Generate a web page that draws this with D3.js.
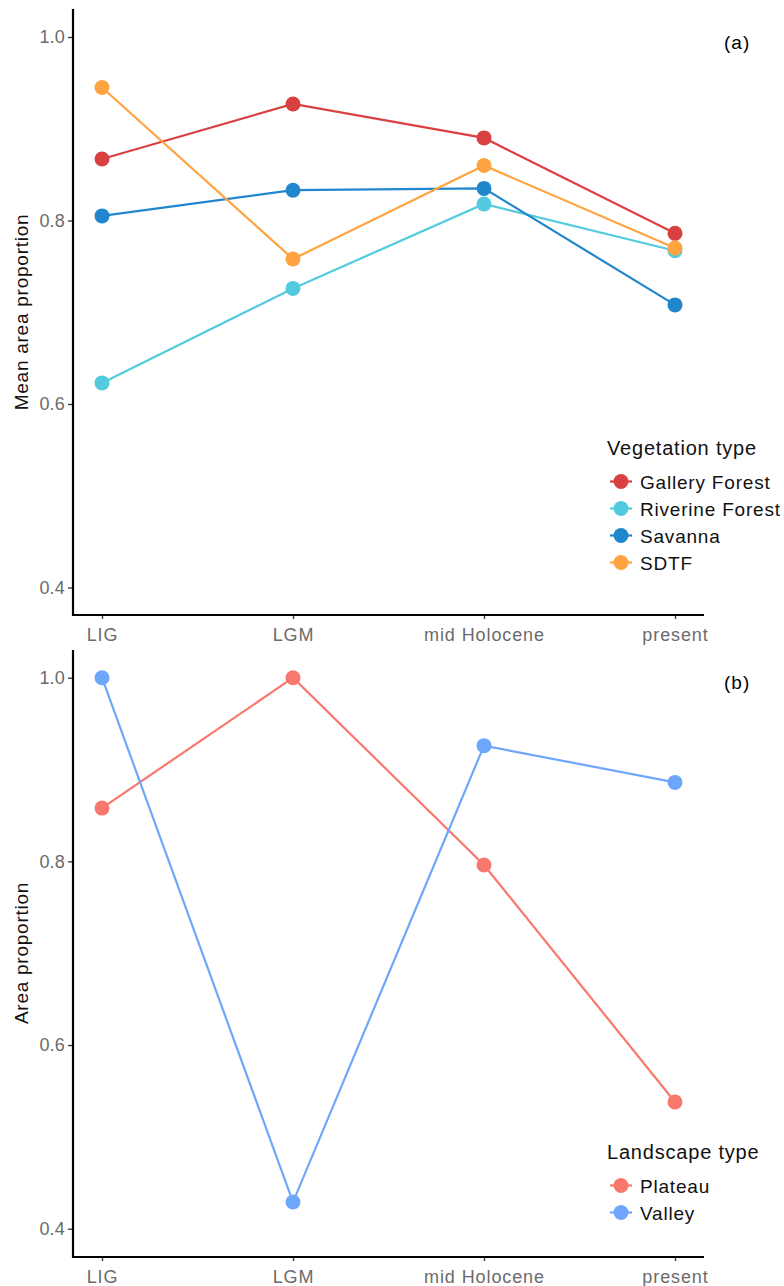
<!DOCTYPE html>
<html><head><meta charset="utf-8">
<script src="https://cdn.jsdelivr.net/npm/d3@7"></script>
<style>body{margin:0;background:#fff;font-family:"Liberation Sans",Arial,sans-serif;}</style>
</head><body>
<svg id="c" width="784" height="1286"></svg>
<script>
const periods = ["LIG","LGM","mid Holocene","present"];
const yTicks = [0.4,0.6,0.8,1.0];

const vegNames = ["Gallery Forest","Riverine Forest","Savanna","SDTF"];
const vegColors = ["#d94141","#52cbdf","#2187cc","#ffa440"];
const galleryForest = [0.867,0.927,0.890,0.786];
const riverineForest = [0.623,0.726,0.818,0.767];
const savanna = [0.805,0.833,0.835,0.708];
const sdtf = [0.945,0.758,0.860,0.770];

const landNames = ["Plateau","Valley"];
const landColors = ["#f8786e","#6ea6fc"];
const plateau = [0.858,1.0,0.796,0.538];
const valley = [1.0,0.429,0.926,0.886];

const svg = d3.select("#c");
const FF = "Liberation Sans, Arial, sans-serif";

function panel(o){
  const g = svg.append("g");
  const x = d3.scalePoint().domain(periods).range([102,675]);
  const y = d3.scaleLinear().domain([0.4,1.0]).range([o.y04,o.y10]);
  // axes
  const ya = g.append("g").attr("transform","translate(73,0)")
    .call(d3.axisLeft(y).tickValues(yTicks).tickFormat(d3.format(".1f")).tickSize(5).tickPadding(3));
  ya.select(".domain").remove();
  ya.selectAll(".tick text").style("font-size","18px").style("letter-spacing","0.2px");
  g.append("line").attr("x1",73).attr("x2",73).attr("y1",o.top).attr("y2",o.bottom+1).attr("stroke","#000").attr("stroke-width",2.2);
  const xa = g.append("g").attr("transform",`translate(0,${o.bottom})`)
    .call(d3.axisBottom(x).tickSize(4).tickPadding(9));
  xa.select(".domain").remove();
  xa.selectAll(".tick text").style("font-size","18px").style("letter-spacing","0.9px");
  g.append("line").attr("x1",72).attr("x2",704).attr("y1",o.bottom).attr("y2",o.bottom).attr("stroke","#000").attr("stroke-width",2.2);
  g.selectAll(".tick line").attr("stroke","#333").attr("stroke-width",1.3);
  g.selectAll(".tick text").attr("fill","#6b6b6b").style("font-family",FF);
  // y title
  g.append("text").attr("transform",`translate(28,${o.ymid}) rotate(-90)`).attr("text-anchor","middle")
    .style("font-size","19px").style("letter-spacing","0.75px").attr("fill","#111").text(o.ytitle);
  // series
  const line = d3.line().x((d,i)=>x(periods[i])).y(d=>y(d));
  o.series.forEach((s,k)=>{
    g.append("path").datum(s).attr("d",line).attr("fill","none").attr("stroke",o.colors[k]).attr("stroke-width",2.2);
  });
  o.series.forEach((s,k)=>{
    g.selectAll(null).data(s).enter().append("circle")
      .attr("cx",(d,i)=>x(periods[i])).attr("cy",d=>y(d)).attr("r",7.5).attr("fill",o.colors[k]);
  });
  // panel label
  g.append("text").attr("x",724).attr("y",o.labelY).style("font-size","19px").style("letter-spacing","1px").attr("fill","#000").text(o.label);
  // legend
  const lg = g.append("g").attr("transform",`translate(607,${o.legY})`);
  lg.append("text").attr("x",0).attr("y",0).style("font-size","20px").style("letter-spacing","0.8px").attr("fill","#111").text(o.legTitle);
  o.names.forEach((n,k)=>{
    const cy = 26.5 + k*27;
    lg.append("line").attr("x1",3).attr("x2",25).attr("y1",cy).attr("y2",cy).attr("stroke",o.colors[k]).attr("stroke-width",2.2);
    lg.append("circle").attr("cx",14).attr("cy",cy).attr("r",7.5).attr("fill",o.colors[k]);
    lg.append("text").attr("x",33).attr("y",cy+7).style("font-size","19px").style("letter-spacing","0.8px").attr("fill","#111").text(n);
  });
}

panel({y04:587.5,y10:37,top:9,bottom:615,ymid:312,ytitle:"Mean area proportion",
  series:[galleryForest,riverineForest,savanna,sdtf],colors:vegColors,names:vegNames,
  label:"(a)",labelY:49,legTitle:"Vegetation type",legY:455});
panel({y04:1228.7,y10:677.7,top:650,bottom:1257,ymid:953,ytitle:"Area proportion",
  series:[plateau,valley],colors:landColors,names:landNames,
  label:"(b)",labelY:689,legTitle:"Landscape type",legY:1159});
</script>
</body></html>
